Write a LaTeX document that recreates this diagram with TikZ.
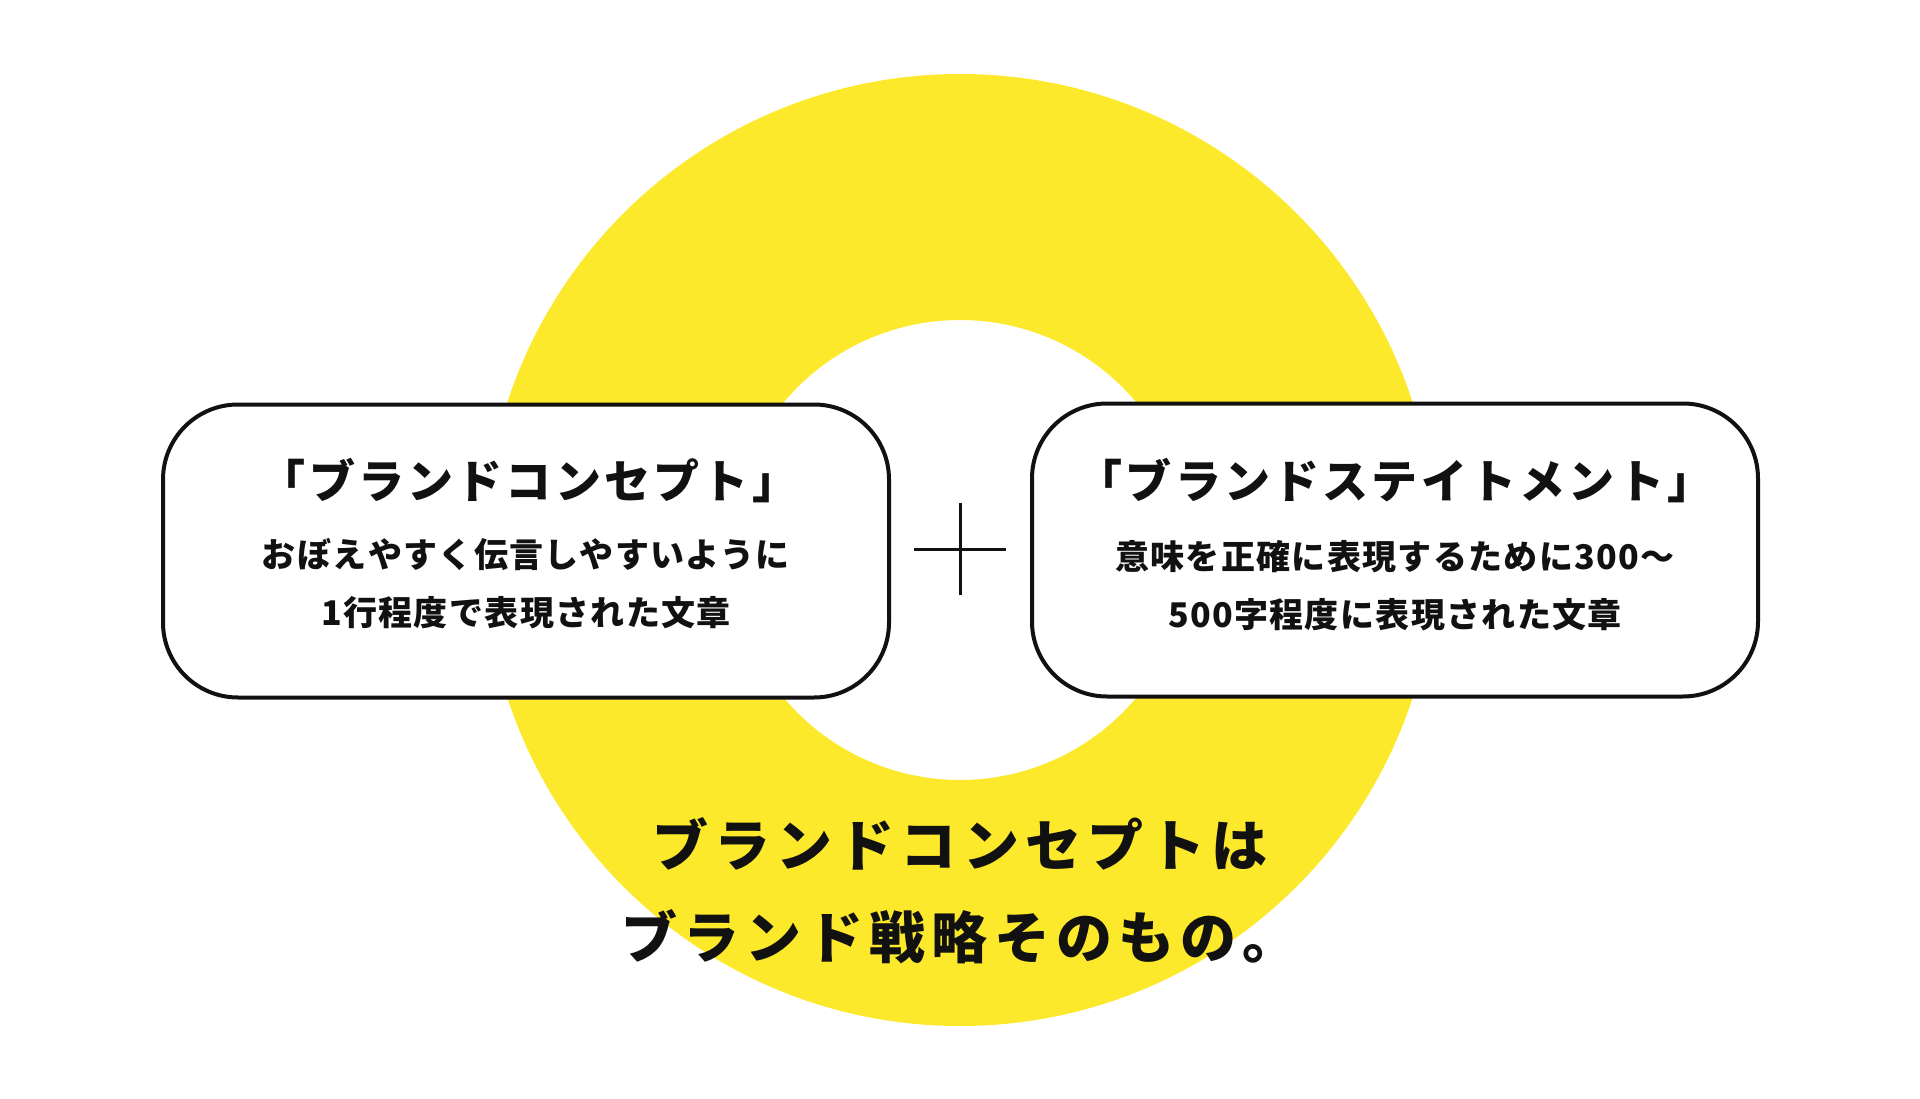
\documentclass[tikz,border=0pt]{standalone}
\usepackage{fontspec}
\usepackage{xcolor}
\usepackage{tikz}
\newfontfamily\jptitle{Noto Sans CJK JP}[LetterSpace=7]
\newfontfamily\jpbody{Noto Sans CJK JP}[LetterSpace=4]
\newfontfamily\jpwide{Noto Sans CJK JP}[LetterSpace=11]
\definecolor{ringyellow}{HTML}{FDE92C}
\definecolor{inkblack}{HTML}{111111}

\tikzset{
  panel/.style={draw=inkblack,line width=4pt,fill=white,rounded corners=75pt,
    minimum width=726pt,minimum height=293pt,inner sep=0pt},
  paneltitle/.style={font={\jptitle\bfseries\fontsize{46}{56}\selectfont},text=inkblack,inner sep=0pt},
  panelbody/.style={font={\jpbody\bfseries\fontsize{34}{58}\selectfont},text=inkblack,align=center,inner sep=0pt},
  headline/.style={font={\jpwide\bfseries\fontsize{56}{92}\selectfont},text=inkblack,align=center,inner sep=0pt}
}

\begin{document}
\begin{tikzpicture}[x=1pt,y=-1pt]
  \useasboundingbox (0,0) rectangle (1920,1099);
  \fill[white] (0,0) rectangle (1920,1099);
  % ring
  \fill[ringyellow,even odd rule] (960,550) circle[radius=476] (960,550) circle[radius=230];

  % boxes
  \node[panel] (concept) at (526,551) {};
  \node[panel] (statement) at (1395,550) {};
  \node[paneltitle] (concepttitle) at (529,481) {「ブランドコンセプト」};
  \node[panelbody] (conceptbody) at (526,584) {おぼえやすく伝言しやすいように\\1行程度で表現された文章};
  \node[paneltitle] (statementtitle) at (1395,481) {「ブランドステイトメント」};
  \node[panelbody] (statementbody) at (1395,586) {意味を正確に表現するために300～\\500字程度に表現された文章};

  % plus
  \draw[inkblack,line width=3pt] (914,549) -- (1006,549);
  \draw[inkblack,line width=3pt] (960,503) -- (960,595);

  \node[headline] (summary) at (960,891) {ブランドコンセプトは\\ブランド戦略そのもの。};
\end{tikzpicture}
\end{document}
